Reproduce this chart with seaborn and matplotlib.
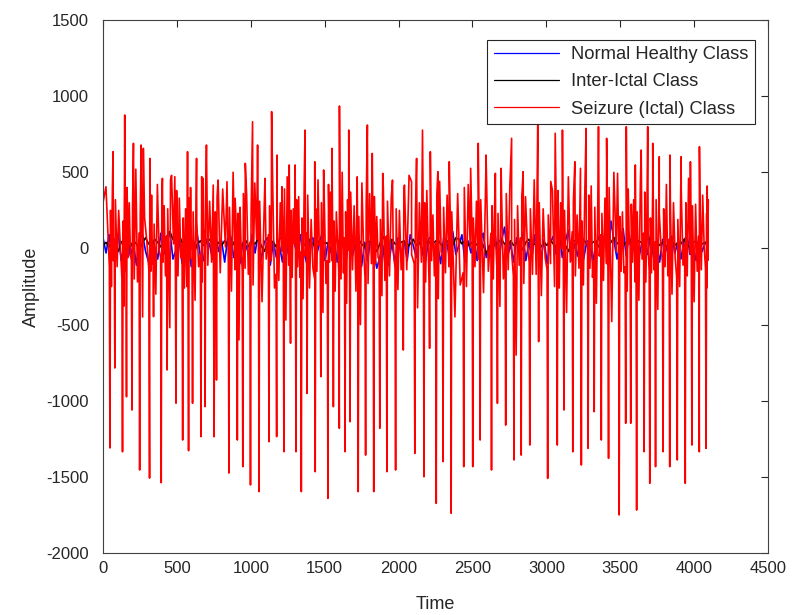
import numpy as np
import pandas as pd
import matplotlib
matplotlib.use("Agg")
import matplotlib.pyplot as plt
import seaborn as sns

# ---------------- data ----------------
series_names = ["Normal Healthy Class", "Inter-Ictal Class", "Seizure (Ictal) Class"]
series_colors = ["#0000ff", "#000000", "#ff0000"]

x_ticks = [0, 500, 1000, 1500, 2000, 2500, 3000, 3500, 4000, 4500]
y_ticks = [-2000, -1500, -1000, -500, 0, 500, 1000, 1500]

# Normal healthy EEG (small amplitude around zero), samples 0..4096
normal_vals = [70, -30, 90, -60, 40, 100, -80, 20, 80, -50,
               30, -110, 60, 90, -20, -90, 50, 10, -70, 100,
               -40, 40, 110, -70, -10, 60, -100, 50, 70, -120,
               20, 90, -50, -80, 60, 30, -70, 100, -20, 50,
               -90, 70, 80, -60, 30, -100, 40, 20, -50, 90,
               -30, 100, -80, 40, 70, -110, 50, -60, 20, -90,
               60, -40, 80, 30, -70, 90, -20, -100, 50, 70,
               -60, 20, 100, -80, 40, -30, 60, -90, 80, 10,
               -70, 110, -50, 30, 90, -120, 40, -80, 60, -20,
               -130, -60, 20, -150, -90, 40, -110, 70, -40, 50,
               -80, 90, 20, -60, 100, -30, -90, 60, 80, -50,
               30, -100, 70, 40, -70, 110, -40, 20, 90, -90,
               50, -30, 70, -80, 40, 100, -60, 20, -40, 80,
               -110, 50, 140, -60, 30, -90, 70, -20, 100, -80,
               40, -60, 90, 20, -70, 60, -100, 30, 80, -40,
               110, -60, 50, 120, -80, 30, -50, 90, -70, 40,
               60, -90, 20, 80, -40, 100, -60, 180, 50, -70,
               40, 130, -50, 90, -30, 60, -80, 20, 70, -40,
               90, -60, 30, -90, 60, 20, -50, 80, -30, 40,
               -70, 50, 90, -40, 20, -80, 60, -20, 40, 10]

# Inter-ictal EEG
interictal_vals = [20, 40, 10, 50, 30, -20, 40, 60, 20, 10,
                   50, 30, -10, 40, 70, 30, 20, 60, 40, 10,
                   50, 80, 110, 60, 30, 90, 40, 20, 50, 10,
                   -30, 30, 50, 20, 40, 60, 30, 10, 40, 20,
                   50, 30, -10, 40, 60, 30, 20, 50, 10, 40,
                   30, 60, 20, -20, 30, 50, 40, 10, 60, 80,
                   40, 20, 30, 50, 10, -40, 20, 40, 60, 30,
                   10, 50, 20, 40, 30, -10, 40, 60, 20, 30,
                   50, 10, 40, 20, 60, 30, 10, 50, 40, 20,
                   -20, 30, 80, 40, 10, 60, 30, 20, 40, 50,
                   10, 30, 60, 20, 40, -10, 30, 50, 20, 40,
                   60, 30, 10, 50, 40, 20, 70, 60, 30, 50,
                   20, 40, 10, 30, 50, 20, -30, 10, 30, 20,
                   40, 60, 30, 10, 50, 20, 40, 30, -10, 40,
                   60, 20, 30, 50, 10, 40, 20, 60, 30, 10,
                   50, 40, 20, -20, 30, 50, 40, 10, 60, 30,
                   20, 40, 50, 10, 30, 60, 20, 40, 70, 30,
                   50, 20, 40, 60, 30, 10, 50, 40, 20, 70,
                   60, 30, 50, 20, 40, 10, 30, 50, 20, 40,
                   30, 60, 20, 10, 40, 50, 20, 30, 40, 20]

# Seizure EEG: spike troughs
trough_t = [47, 80, 132, 159, 196, 248, 315, 342, 394, 434, 494, 539, 579, 606, 663, 691, 752, 768, 852, 909,
            946, 998, 1056, 1123, 1175, 1224, 1269, 1306, 1342, 1381, 1436, 1474, 1522, 1559, 1599, 1638, 1672,
            1727, 1777, 1832, 1873, 1921, 1980, 2032, 2110, 2172, 2210, 2255, 2301, 2356, 2441, 2502, 2552,
            2629, 2669, 2725, 2781, 2830, 2888, 2948, 3009, 3074, 3119, 3179, 3237, 3283, 3324, 3372, 3421,
            3493, 3537, 3571, 3611, 3662, 3700, 3739, 3790, 3835, 3886, 3940, 3985, 4035, 4081]
trough_v = [-1310, -785, -1335, -974, -1061, -1455, -1508, -448, -1538, -798, -1016, -1258, -1328, -1017,
            -1236, -1039, -1236, -864, -1475, -1258, -1433, -1553, -1597, -1269, -1236, -1335, -622, -1335,
            -1597, -952, -1466, -842, -1641, -1039, -1181, -1335, -1138, -1597, -1357, -1597, -1181, -1466,
            -1455, -667, -1346, -1499, -656, -1674, -1400, -1739, -1433, -1433, -1258, -1455, -1017, -1160,
            -1389, -1357, -1291, -612, -1510, -1291, -1061, -1335, -1422, -1313, -1072, -1258, -1378, -1750,
            -1148, -1148, -1718, -1335, -1542, -1433, -1335, -1433, -1389, -1542, -1291, -1335, -1313]
# level just before / just after each spike
trough_pre = [-120, 60, -200, 40, -80, 100, -150, 20, -60, 80, -180, 30, -100, 50, -40, 120, -220, 10, -90, 70,
              -140, 40, -60, 90, -170, 20, -110, 60, -30, 100, -200, 50, -80, 30, -150, 70, -50, 110, -190, 20,
              -70, 80, -130, 40, -100, 60, -210, 30, -60, 90, -160, 50, -40, 100, -120, 20, -180, 70, -90, 40,
              -140, 60, -50, 110, -200, 30, -80, 90, -160, 50, -120, 20, -70, 100, -150, 40, -90, 60, -190, 30,
              -60, 80, -130]
trough_post = [250, 320, 180, 400, 280, 220, 350, 160, 300, 260, 380, 200, 330, 240, 290, 410, 190, 340, 270, 230,
               360, 210, 310, 280, 170, 390, 250, 320, 200, 350, 260, 300, 420, 180, 330, 240, 370, 210, 290, 340,
               190, 310, 260, 380, 220, 300, 170, 350, 270, 240, 400, 200, 320, 280, 230, 360, 190, 340, 260, 300,
               220, 380, 250, 310, 180, 350, 270, 230, 400, 210, 330, 290, 240, 370, 200, 320, 260, 340, 190, 300,
               280, 350, 230]
# slow-wave levels between spikes (first dip, rise, second dip)
wave_dip1 = [-250, -120, -380, -60, -200, -450, -150, -300, -90, -520,
             -180, -260, -70, -340, -220, -110, -400, -160, -280, -600,
             -130, -240, -350, -80, -210, -470, -190, -120, -330, -260,
             -150, -420, -90, -280, -200, -360, -140, -500, -230, -100,
             -310, -180, -270, -140, -390, -220, -80, -330, -160, -450,
             -250, -120, -290, -200, -380, -140, -700, -230, -170, -310,
             -100, -260, -420, -180, -240, -130, -360, -210, -480, -150,
             -280, -90, -340, -220, -160, -400, -120, -300, -250, -180,
             -350, -140, -260]
wave_rise = [380, 250, 450, 300, 520, 200, 350, 420, 280, 480,
             330, 260, 400, 180, 460, 310, 240, 390, 500, 270,
             350, 430, 220, 380, 300, 470, 260, 340, 410, 190,
             450, 290, 370, 240, 500, 320, 280, 430, 360, 210,
             400, 330, 250, 480, 300, 380, 220, 440, 350, 270,
             420, 310, 490, 230, 360, 400, 280, 340, 450, 260,
             380, 300, 470, 220, 350, 410, 270, 330, 500, 240,
             390, 320, 440, 280, 360, 230, 420, 300, 380, 460,
             290, 350, 410]
wave_dip2 = [-80, 20, -150, -40, -220, 50, -100, -10, -180, 30,
             -60, -250, 0, -120, 40, -90, -200, 10, -140, -30,
             -170, 60, -70, -260, -20, -110, 30, -190, -50, -130,
             20, -230, -80, 40, -160, -10, -280, 0, -100, -60,
             -210, 30, -140, -40, -90, 50, -180, -20, -120, -240,
             10, -70, -150, 40, -200, -30, -110, 20, -170, -60,
             -250, 0, -90, -130, 30, -190, -50, -100, -20, -160,
             40, -220, -70, -10, -140, 20, -180, -60, -110, -30,
             -150, 10, -80]
# Seizure EEG: positive peaks
peak_t = [20, 68, 147, 206, 258, 273, 317, 402, 457, 486, 572, 633, 668, 700, 746, 779, 839, 894, 963, 1012,
          1046, 1096, 1141, 1178, 1211, 1260, 1300, 1367, 1433, 1493, 1549, 1600, 1663, 1720, 1789, 1822, 1893,
          1959, 2040, 2088, 2122, 2162, 2215, 2266, 2343, 2400, 2488, 2539, 2592, 2655, 2694, 2765, 2843, 2942,
          3030, 3060, 3109, 3193, 3231, 3269, 3353, 3408, 3482, 3541, 3602, 3642, 3686, 3720, 3764, 3837, 3912,
          3975, 4036]
peak_v = [405, 635, 876, 690, 679, 657, 591, 460, 449, 471, 635, 591, 471, 679, 416, 449, 438, 329, 559, 832,
          679, 460, 898, 613, 405, 548, 548, 777, 569, 515, 657, 935, 777, 470, 810, 624, 493, 449, 416, 438,
          591, 777, 635, 504, 569, 360, 526, 690, 613, 493, 526, 723, 504, 810, 440, 756, 777, 569, 526, 788,
          799, 723, 493, 799, 548, 646, 799, 690, 602, 613, 602, 569, 668]
seizure_start = (0, 300)
seizure_end = (4096, 320)

# ---------------- assemble long-form table ----------------
n_samples = 4096
normal_t = np.linspace(0, n_samples, len(normal_vals))
inter_t = np.linspace(0, n_samples, len(interictal_vals))

sz_t, sz_v = [seizure_start[0]], [seizure_start[1]]
next_t = list(trough_t[1:]) + [n_samples]
for t, t2, v, a, b, d1, r, d2 in zip(trough_t, next_t, trough_v, trough_pre, trough_post,
                                      wave_dip1, wave_rise, wave_dip2):
    g = t2 - t
    sz_t += [t - 4, t, t + 4, t + 0.3 * g, t + 0.5 * g, t + 0.72 * g]
    sz_v += [a, v, b, d1, r, d2]
sz_t += list(peak_t) + [seizure_end[0]]
sz_v += list(peak_v) + [seizure_end[1]]

df = pd.concat([
    pd.DataFrame({"Time": normal_t, "Amplitude": normal_vals, "cls": series_names[0]}),
    pd.DataFrame({"Time": inter_t, "Amplitude": interictal_vals, "cls": series_names[1]}),
    pd.DataFrame({"Time": sz_t, "Amplitude": sz_v, "cls": series_names[2]}),
], ignore_index=True)

# ---------------- plot ----------------
sns.set_style("white")
plt.rcParams["font.family"] = ["Liberation Sans", "DejaVu Sans"]
plt.rcParams["axes.unicode_minus"] = False

fig = plt.figure(figsize=(7.97, 6.15), dpi=100)
ax = fig.add_axes([103 / 797, 1 - 553 / 615, (768 - 103) / 797, (553 - 20) / 615])

sns.lineplot(data=df, x="Time", y="Amplitude", hue="cls", hue_order=series_names,
             palette=dict(zip(series_names, series_colors)), estimator=None, sort=True,
             linewidth=1.2, ax=ax)

ax.set_xlim(0, 4500)
ax.set_ylim(-2000, 1500)
ax.set_xticks(x_ticks)
ax.set_yticks(y_ticks)
ax.set_xlabel("Time", fontsize=13, color="#262626", labelpad=14)
ax.set_ylabel("Amplitude", fontsize=13, color="#262626", labelpad=5)
ax.tick_params(direction="in", top=True, right=True, length=5, width=0.8,
               labelsize=12, colors="#262626")
ax.tick_params(axis="x", pad=6)
ax.tick_params(axis="y", pad=10)
for s in ax.spines.values():
    s.set_color("#404040")
    s.set_linewidth(0.8)

handles, labels = ax.get_legend_handles_labels()
leg = ax.legend(handles, labels, loc="upper right", bbox_to_anchor=(0.98, 0.9625),
                borderaxespad=0, fontsize=13.2, frameon=True, fancybox=False,
                edgecolor="#262626", framealpha=1, handlelength=3.55, handletextpad=0.65,
                labelspacing=0.55, borderpad=0.35)
leg.get_frame().set_linewidth(0.8)
for ln in leg.get_lines():
    ln.set_linewidth(0.9)

fig.savefig("out.png", dpi=100)
